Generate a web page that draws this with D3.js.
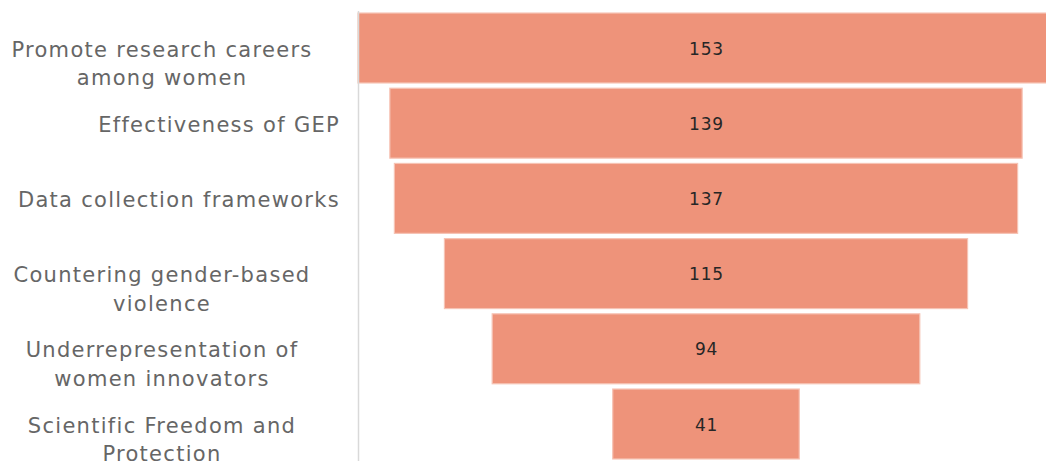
<!DOCTYPE html>
<html>
<head>
<meta charset="utf-8">
<script src="https://cdn.jsdelivr.net/npm/d3@7/dist/d3.min.js"></script>
<style>
  html, body { margin: 0; padding: 0; background: #fff; overflow: hidden; }
  svg { display: block; }
</style>
</head>
<body>
<svg id="chart" width="1046" height="461"></svg>
<script>
// Funnel of topic counts
const categories = [
  ["Promote research careers", "among women"],
  ["Effectiveness of GEP"],
  ["Data collection frameworks"],
  ["Countering gender-based", "violence"],
  ["Underrepresentation of", "women innovators"],
  ["Scientific Freedom and", "Protection"]
];
const values = [153, 139, 137, 115, 94, 41];

const W = 1046, H = 461;
const svg = d3.select("#chart");
const keys = categories.map(c => c.join(" "));

const maxV = d3.max(values);
const x = d3.scaleLinear().domain([-maxV / 2, maxV / 2]).range([358, 1054]);
const y = d3.scaleBand().domain(keys).range([10.4, 461.6])
  .paddingInner(0.07).paddingOuter(0.035);

const barFill = "#ee937a";

// bars, centred on the funnel axis
svg.append("g").selectAll("rect")
  .data(values)
  .join("rect")
  .attr("x", d => x(-d / 2))
  .attr("y", (d, i) => y(keys[i]))
  .attr("width", d => x(d / 2) - x(-d / 2))
  .attr("height", y.bandwidth())
  .attr("fill", barFill)
  .attr("stroke", "#f6c3b4")
  .attr("stroke-width", 1.2);

// value labels
svg.append("g").selectAll("text")
  .data(values)
  .join("text")
  .attr("x", x(0) + 0.5)
  .attr("y", (d, i) => y(keys[i]) + y.bandwidth() / 2 + 0.5)
  .attr("text-anchor", "middle")
  .attr("dominant-baseline", "central")
  .attr("font-family", "'DejaVu Sans', Verdana, sans-serif")
  .attr("font-size", 17)
  .attr("letter-spacing", 0.8)
  .attr("fill", "#262626")
  .text(d => d);

// vertical category axis line
svg.append("line")
  .attr("x1", 358.5).attr("x2", 358.5)
  .attr("y1", 11).attr("y2", H)
  .attr("stroke", "#d9d9d9")
  .attr("stroke-width", 1.5);

// category labels: single lines right-aligned, wrapped lines centred
const lab = svg.append("g")
  .attr("font-family", "'DejaVu Sans', Verdana, sans-serif")
  .attr("font-size", 21)
  .attr("letter-spacing", 1.3)
  .attr("fill", "#666666");

categories.forEach((lines, i) => {
  const cy = y(keys[i]) + y.bandwidth() / 2;
  const multi = lines.length > 1;
  const t = lab.append("text")
    .attr("text-anchor", multi ? "middle" : "end")
    .attr("dominant-baseline", "central");
  lines.forEach((ln, j) => {
    t.append("tspan")
      .attr("x", multi ? 162 : 340)
      .attr("y", cy + 1.5 + j * 28.5)
      .text(ln);
  });
});
</script>
</body>
</html>
